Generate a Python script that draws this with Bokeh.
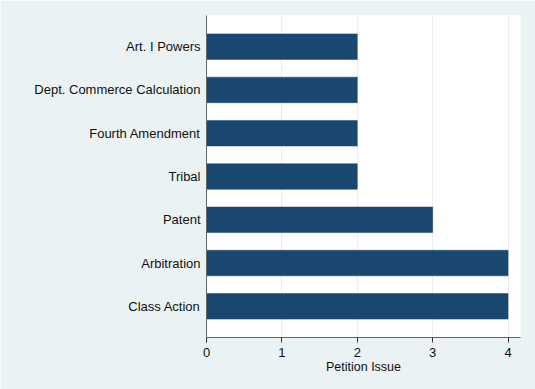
from bokeh.plotting import figure
from bokeh.models import FactorRange, Range1d, FixedTicker
from bokeh.embed import file_html
from bokeh.resources import INLINE

categories = ["Class Action", "Arbitration", "Patent", "Tribal",
              "Fourth Amendment", "Dept. Commerce Calculation", "Art. I Powers"]
counts = [4, 4, 3, 2, 2, 2, 2]
x_ticks = [0, 1, 2, 3, 4]
x_title = "Petition Issue"

BG = "#eaf2f3"
BAR = "#1a476f"
FONT = "Liberation Sans"

p = figure(
    y_range=FactorRange(factors=categories, range_padding=0.22, range_padding_units="absolute"),
    x_range=Range1d(0, 4.165),
    frame_width=314, frame_height=322,
    min_border_left=206, min_border_right=15, min_border_top=15, min_border_bottom=52,
    output_backend="svg", toolbar_location=None,
    background_fill_color="white", border_fill_color=BG,
)
p.outline_line_color = None

p.hbar(y=categories, right=counts, left=0, height=0.59,
       fill_color=BAR, line_color=BAR, line_width=0.5)

# x axis
p.xaxis.ticker = FixedTicker(ticks=x_ticks)
p.xaxis.axis_label = x_title
p.xaxis.axis_label_text_font = FONT
p.xaxis.axis_label_text_font_style = "normal"
p.xaxis.axis_label_text_font_size = "12.5px"
p.xaxis.axis_label_text_color = "#111111"
p.xaxis.axis_label_standoff = 0
p.xaxis.major_label_text_font = FONT
p.xaxis.major_label_text_font_size = "13px"
p.xaxis.major_label_text_color = "#111111"
p.xaxis.major_label_standoff = 5
p.xaxis.axis_line_color = "#666666"
p.xaxis.major_tick_line_color = "#333333"
p.xaxis.major_tick_out = 5
p.xaxis.major_tick_in = 0
p.xaxis.minor_tick_line_color = None

# y axis
p.yaxis.major_label_text_font = FONT
p.yaxis.major_label_text_font_size = "13px"
p.yaxis.major_label_text_color = "#111111"
p.yaxis.major_label_standoff = 6
p.yaxis.axis_line_color = "#666666"
p.yaxis.major_tick_line_color = None
p.yaxis.major_tick_out = 0
p.yaxis.major_tick_in = 0
p.yaxis.minor_tick_line_color = None

p.xgrid.grid_line_color = "#e6eef0"
p.xgrid.grid_line_width = 1
p.ygrid.grid_line_color = None

open("out.html", "w").write(file_html(p, INLINE))
